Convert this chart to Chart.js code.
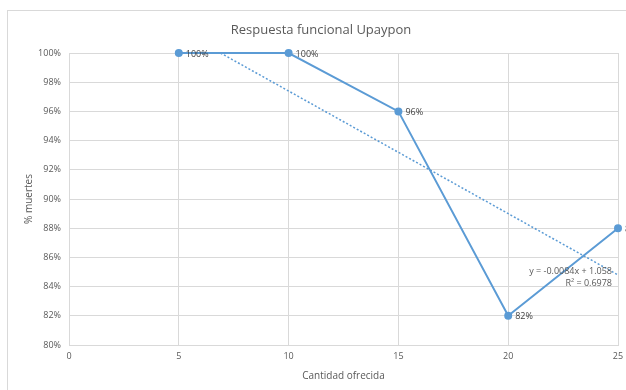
<!DOCTYPE html>
<html>
<head>
<meta charset="utf-8">
<script src="https://cdn.jsdelivr.net/npm/chart.js@4.4.0/dist/chart.umd.min.js"></script>
<style>
  html, body { margin: 0; padding: 0; background: #fff; }
  #wrap { width: 626px; height: 390px; }
</style>
</head>
<body>
<div id="wrap"><canvas id="chart" width="626" height="390"></canvas></div>
<script>
// datos
const cantidades = [5, 10, 15, 20, 25];
const muertes = [1.0, 1.0, 0.96, 0.82, 0.88];
// linea de tendencia (extremos)
const tendX = [6.9, 25];
const tendY = [1.0, 0.848];
const ecuacion = 'y = -0.0084x + 1.058';
const r2 = 'R² = 0.6978';

const azul = '#5b9bd5';
const gris = '#595959';
const font = "'Open Sans', 'Liberation Sans', sans-serif";

const puntos = cantidades.map((x, i) => ({ x, y: muertes[i] }));
const tendencia = tendX.map((x, i) => ({ x, y: tendY[i] }));

const extras = {
  id: 'extras',
  beforeDraw(chart) {
    const ctx = chart.ctx;
    ctx.save();
    ctx.strokeStyle = '#d9d9d9';
    ctx.lineWidth = 1;
    ctx.strokeRect(7.5, 10.5, 700, 500);
    ctx.fillStyle = gris;
    ctx.font = '13px ' + font;
    ctx.textAlign = 'center';
    ctx.textBaseline = 'middle';
    ctx.fillText('Respuesta funcional Upaypon', 321, 30);
    ctx.restore();
  },
  afterDatasetsDraw(chart) {
    const ctx = chart.ctx;
    const meta = chart.getDatasetMeta(0);
    ctx.save();
    ctx.fillStyle = '#404040';
    ctx.font = '9px ' + font;
    ctx.textBaseline = 'middle';
    ctx.textAlign = 'left';
    meta.data.forEach((pt, i) => {
      ctx.fillText(Math.round(muertes[i] * 100) + '%', pt.x + 7, pt.y + 1);
    });
    const xs = chart.scales.x, ys = chart.scales.y;
    ctx.fillStyle = gris;
    ctx.textAlign = 'right';
    const ex = xs.getPixelForValue(25) - 6;
    ctx.fillText(ecuacion, ex, ys.getPixelForValue(0.8505));
    ctx.fillText(r2, ex, ys.getPixelForValue(0.8425));
    ctx.restore();
  }
};

new Chart(document.getElementById('chart'), {
  type: 'scatter',
  data: {
    datasets: [
      {
        data: puntos,
        showLine: true,
        borderColor: azul,
        backgroundColor: azul,
        borderWidth: 2,
        pointRadius: 3,
        pointHoverRadius: 3,
        clip: false,
      },
      {
        data: tendencia,
        showLine: true,
        borderColor: azul,
        borderWidth: 1.5,
        borderDash: [2, 2],
        pointRadius: 0,
        clip: false,
      },
    ],
  },
  options: {
    responsive: false,
    animation: false,
    layout: { padding: { left: 23, right: 8, top: 53, bottom: 0 } },
    plugins: {
      legend: { display: false },
      tooltip: { enabled: false },
    },
    scales: {
      x: {
        type: 'linear',
        min: 0,
        max: 25,
        ticks: { stepSize: 5, color: gris, font: { family: font, size: 9 }, padding: 6 },
        grid: { color: '#d9d9d9', drawTicks: false },
        border: { color: '#d9d9d9' },
        title: { display: true, text: 'Cantidad ofrecida', color: gris, font: { family: font, size: 10 }, padding: { top: 6, bottom: 8 } },
        afterFit: (s) => { s.height = 45; s.paddingRight = 0; s.paddingLeft = 0; },
      },
      y: {
        min: 0.8,
        max: 1.0,
        ticks: {
          stepSize: 0.02,
          color: gris,
          font: { family: font, size: 9 },
          padding: 8,
          callback: (v) => Math.round(v * 100) + '%',
        },
        grid: { color: '#d9d9d9', drawTicks: false },
        border: { color: '#d9d9d9' },
        title: { display: true, text: '% muertes', color: gris, font: { family: font, size: 10 }, padding: 0 },
        afterFit: (s) => { s.width = 46; },
      },
    },
  },
  plugins: [extras],
});
</script>
</body>
</html>
